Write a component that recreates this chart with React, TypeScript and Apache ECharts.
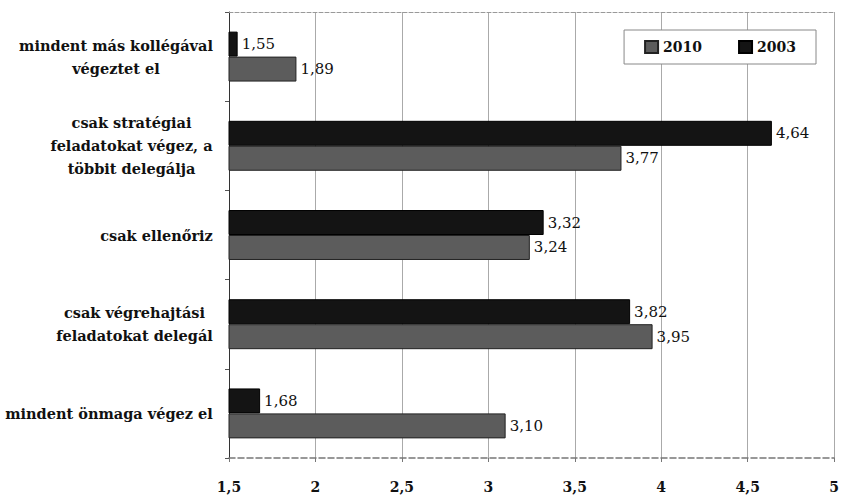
import React, { useEffect, useRef } from "react";
import * as echarts from "echarts";

const categories = [
  "mindent más kollégával\nvégeztet el",
  "csak stratégiai\nfeladatokat végez, a\ntöbbit delegálja",
  "csak ellenőriz",
  "csak végrehajtási\nfeladatokat delegál",
  "mindent önmaga végez el",
];
const values2003 = [1.55, 4.64, 3.32, 3.82, 1.68];
const values2010 = [1.89, 3.77, 3.24, 3.95, 3.1];
const xMin = 1.5;
const xMax = 5;
const xStep = 0.5;

const FAMILY = "DejaVu Serif";

function measure(text: string, size: number): number {
  const c = document.createElement("canvas").getContext("2d");
  if (!c) return text.length * size * 0.6;
  c.font = `bold ${size}px "DejaVu Serif"`;
  return c.measureText(text).width;
}

const fmt = (v: number, d: number) => v.toFixed(d).replace(".", ",");

export default function App() {
  const ref = useRef<HTMLDivElement>(null);
  useEffect(() => {
    document.body.style.margin = "0";
    if (!ref.current) return;
    const chart = echarts.init(ref.current, undefined, { renderer: "svg" });
    const ref16 = measure("mindent más kollégával", 16);
    const labelSize = Math.max(12, Math.min(16, Math.round(((16 * 192) / ref16) * 2) / 2));
    const rich: Record<string, any> = {};
    categories.forEach((c, i) => {
      const w = Math.ceil(Math.max(...c.split("\n").map((l) => measure(l, labelSize)))) + 2;
      rich["c" + i] = {
        width: w,
        align: "center",
        fontFamily: FAMILY,
        fontWeight: "bold",
        fontSize: labelSize,
        lineHeight: 23,
        color: "#111",
      };
    });
    const labelStyle = {
      show: true,
      position: "right",
      distance: 4,
      fontFamily: FAMILY,
      fontSize: 15,
      color: "#111",
      formatter: (p: any) => fmt(p.value, 2),
    };
    chart.setOption({
      animation: false,
      backgroundColor: "#fff",
      grid: { left: 229, right: 6, top: 12, bottom: 38, containLabel: false },
      legend: {
        data: ["2010", "2003"],
        right: 26,
        top: 30,
        padding: [10, 20, 10, 20],
        itemGap: 36,
        itemWidth: 13,
        itemHeight: 12,
        icon: "rect",
        borderColor: "#888",
        borderWidth: 1,
        backgroundColor: "#fff",
        textStyle: {
          fontFamily: FAMILY,
          fontWeight: "bold",
          fontSize: 14,
          color: "#111",
        },
      },
      xAxis: [
        {
          type: "value",
          min: xMin,
          max: xMax,
          interval: xStep,
          position: "bottom",
          axisLine: { show: true, lineStyle: { color: "#777", width: 1.5, type: "dashed" } },
          axisTick: { show: true, length: 4, lineStyle: { color: "#777" } },
          splitLine: { show: true, lineStyle: { color: "#aaa", width: 1 } },
          axisLabel: {
            margin: 22,
            fontFamily: FAMILY,
            fontWeight: "bold",
            fontSize: 14,
            color: "#111",
            formatter: (v: number) => fmt(v, v % 1 === 0 ? 0 : 1),
          },
        },
        {
          type: "value",
          min: xMin,
          max: xMax,
          interval: xStep,
          position: "top",
          axisLine: { show: true, lineStyle: { color: "#999", width: 1, type: "dashed" } },
          axisTick: { show: false },
          axisLabel: { show: false },
          splitLine: { show: false },
        },
      ],
      yAxis: {
        type: "category",
        inverse: true,
        data: categories,
        axisLine: { show: true, lineStyle: { color: "#333", width: 1 } },
        axisTick: { show: true, length: 4, lineStyle: { color: "#555" } },
        axisLabel: {
          margin: 15,
          align: "right",
          formatter: (v: string, i: number) =>
            v
              .split("\n")
              .map((l) => `{c${i}|${l}}`)
              .join("\n"),
          rich,
        },
      },
      series: [
        {
          name: "2003",
          type: "bar",
          data: values2003,
          barGap: "0%",
          barCategoryGap: "44%",
          itemStyle: { color: "#141414", borderColor: "#000", borderWidth: 1 },
          label: labelStyle,
        },
        {
          name: "2010",
          type: "bar",
          data: values2010,
          barGap: "0%",
          barCategoryGap: "44%",
          itemStyle: { color: "#5c5c5c", borderColor: "#222", borderWidth: 1 },
          label: labelStyle,
        },
      ],
    });
    return () => chart.dispose();
  }, []);
  return <div ref={ref} style={{ width: 842, height: 496 }} />;
}
